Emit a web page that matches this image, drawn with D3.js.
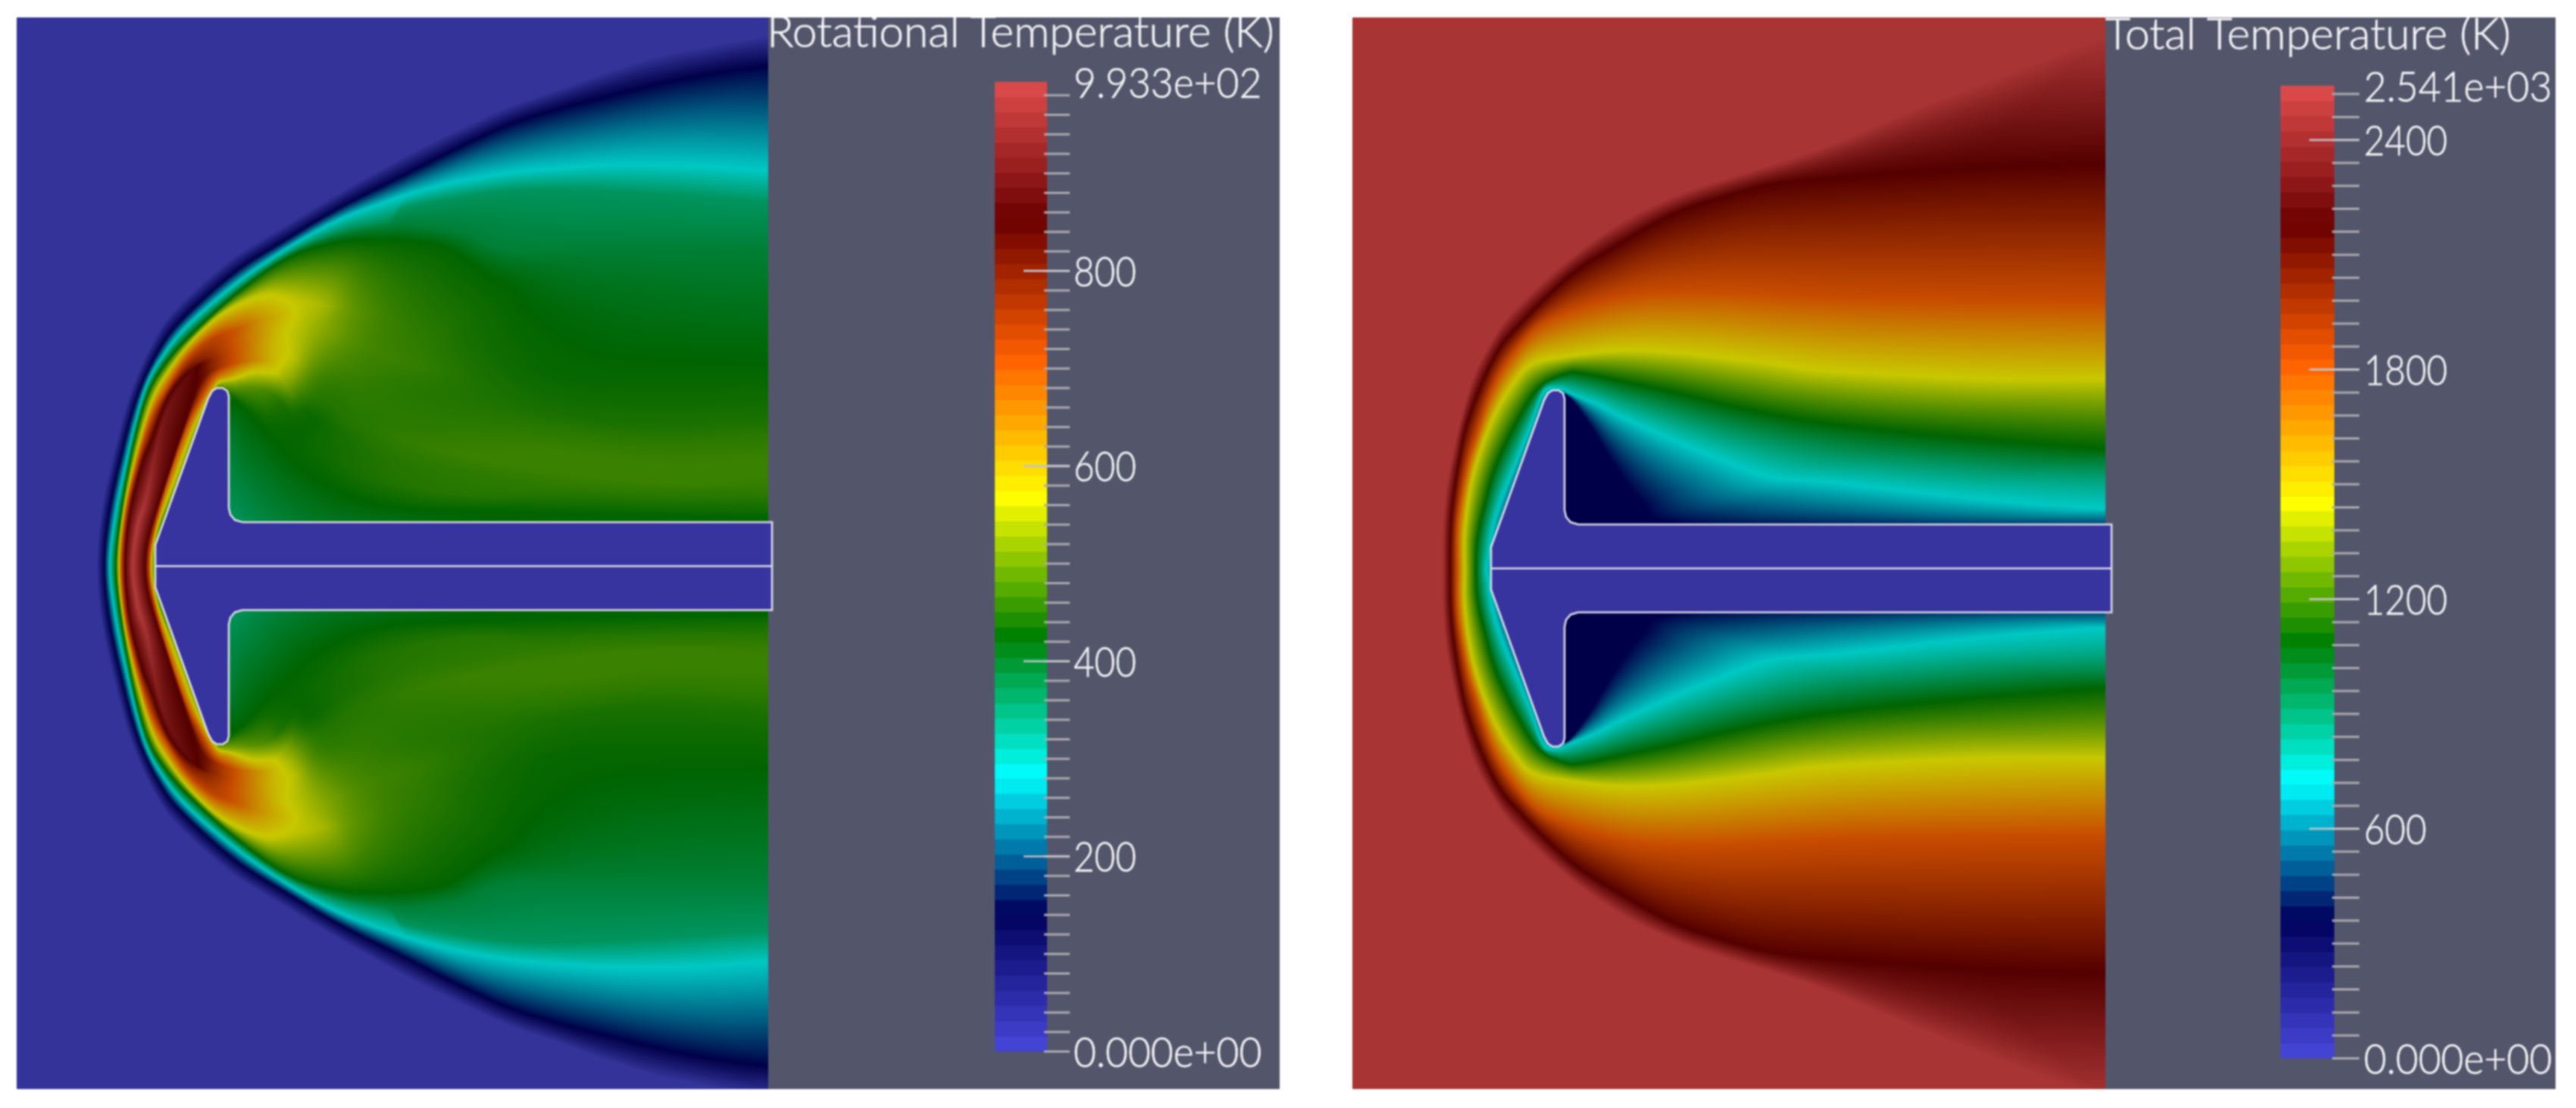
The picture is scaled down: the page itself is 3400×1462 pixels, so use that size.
<!DOCTYPE html>
<html><head><meta charset="utf-8">
<script src="https://cdn.jsdelivr.net/npm/d3@7/dist/d3.min.js"></script>
<style>
html,body{margin:0;padding:0;background:#fff;width:3400px;height:1462px;overflow:hidden}
#wrap{position:absolute;left:0;top:0;width:3400px;height:1462px;filter:blur(0.9px)}
canvas{position:absolute}
svg{position:absolute;left:0;top:0}
text{font-family:Lato,"Open Sans",sans-serif;font-weight:300;fill:#f4f4f6;stroke:#f4f4f6;stroke-width:.6px}
</style></head><body><div id="wrap"></div>
<script>
// ---------- colour map stops (normalised temperature) ----------
const mapStops   = [0, 0.143, 0.285, 0.429, 0.571, 0.714, 0.857, 1];
const barColors  = ["#4747db","#00005c","#00ffff","#008000","#ffff00","#ff6100","#6b0000","#e04d4d"];
const fieldColors= ["#333399","#000048","#00c8c3","#006400","#c8c800","#c84c00","#540000","#b23a3a"];

// ---------- rotational temperature: ridge lines [x, height above axis, normalised T], outermost first ----------
const rotBlue = [[106,0,0],[111,67,0],[126,140,0],[150,228,0],[182,300,0],[215,345,0],[283,405,0],[350,447,0],[430,495,0],[518,544,0],[585,577,0],[651,607,0],[718,630,0],[785,654,0],[851,674,0],[918,687,0],[991,700,0]];
const rotNavy = [[116,0,.143],[122,67,.143],[137,140,.143],[160,225,.143],[191,290,.143],[225,332,.143],[291,390,.143],[358,432,.143],[425,472,.143],[518,519,.143],[585,553,.143],[651,583,.143],[718,604,.143],[785,621,.143],[851,637,.143],[918,650,.143],[991,660,.143]];
const rotCyan = [[123,0,.285],[131,70,.285],[143,130,.285],[158,194,.285],[172,240,.285],[191,274,.285],[225,317,.285],[291,374,.285],[358,420,.285],[425,457,.285],[491,482,.285],[518,491,.285],[558,502,.285],[585,508,.285],[651,519,.285],[718,525,.285],[785,529,.285],[851,529,.285],[918,527,.285],[991,522,.285]];
const rotTeal = [[127,0,.36],[134.5,70,.36],[145.5,130,.36],[158,187,.36],[172,233,.36],[191,268,.36],[225,309,.36],[291,367,.36],[358,413,.36],[425,442,.36],[491,458,.36],[518,474,.36],[651,495,.36],[785,494,.36],[991,480,.36]];
const rotSea  = [[129,0,.395],[136,70,.395],[147,130,.395],[158,182,.395],[172,229,.395],[191,264,.395],[225,305,.395],[291,364,.395],[358,410,.395],[425,436,.395],[491,448,.39],[518,450,.39],[585,440,.39],[651,417,.39],[785,417,.39],[991,417,.39]];
const rotGreen= [[131,0,.43],[138,70,.43],[148,130,.43],[158,177,.43],[172,225,.43],[191,260,.43],[225,300,.43],[291,360,.43],[358,407,.43],[425,427,.43],[491,430,.43],[558,422,.43],[591,404,.43],[625,380,.43],[651,364,.43],[685,324,.43],[751,280,.43],[851,267,.43],[991,264,.43]];
const rotOuterYellow = [[135,0,.571],[141,70,.571],[158,150,.571],[178,217,.571],[198,254,.571],[231,297,.571],[275,337,.56],[325,360,.56],[355,356,.565],[400,345,.55],[441,340,.50],[491,325,.47],[558,305,.455],[600,295,.445],[700,250,.435],[850,215,.44],[991,200,.445]];
const rotOuterOrange = [[138,0,.714],[144,70,.714],[160,140,.714],[178,197,.714],[198,234,.714],[225,274,.72],[258,300,.73],[290,312,.70],[325,325,.63],[365,330,.575],[410,310,.52],[458,290,.48],[530,265,.465],[610,240,.45],[710,205,.445],[850,180,.45],[991,170,.46]];
const rotOuterDark = [[143,0,.857],[149,70,.857],[165,135,.857],[178,167,.857],[198,220,.86],[221,250,.86],[245,272,.80],[280,292,.72],[318,305,.64],[350,310,.58],[375,300,.55],[415,275,.49],[470,250,.465],[545,225,.455],[620,200,.455],[720,175,.46],[860,150,.465],[991,140,.47]];
const rotCore = [[153,0,1],[160,55,1],[171,90,.98],[191,184,.92],[215,234,.89],[238,264,.86],[262,272,.78],[300,285,.68],[335,290,.6],[365,275,.56],[400,245,.47],[460,215,.46],[540,190,.46],[620,170,.465],[720,150,.47],[860,130,.47],[991,125,.47]];
const rotInnerDark = [[170,0,.857],[176,45,.857],[200,120,.857],[215,167,.857],[235,224,.85],[248,250,.83],[268,262,.76],[300,270,.68],[335,270,.6],[358,258,.55],[390,225,.46],[445,190,.455],[520,165,.465],[600,145,.47],[710,125,.47],[860,110,.47],[991,105,.465]];
const rotInnerOrange = [[175,0,.714],[181,45,.714],[201,117,.714],[225,184,.714],[240,215,.72],[262,245,.66],[280,250,.62],[310,258,.585],[340,255,.57],[355,240,.52],[380,205,.44],[430,170,.445],[500,140,.455],[590,125,.46],[700,105,.46],[860,90,.455],[991,90,.455]];
const rotInnerYellow = [[178,0,.571],[184,45,.571],[205,110,.6],[229,175,.6],[244,208,.6],[258,232,.6],[270,242,.55],[300,238,.5],[330,232,.48],[350,215,.45],[370,185,.435],[410,150,.44],[480,115,.45],[590,95,.455],[700,85,.445],[860,75,.44],[991,72,.44]];
const rotValley = [[183,0,.46],[188,45,.46],[212,110,.5],[235,175,.5],[249,210,.5],[264,236,.5],[275,232,.46],[291,217,.43],[325,184,.43],[358,150,.43],[408,110,.43],[491,80,.43],[638,72,.43],[800,68,.43],[991,65,.43]];
const rotWall = [[195,0,.45],[200,45,.45],[225,110,.45],[245,175,.45],[255,210,.45],[270,225,.45],[281,205,.42],[281,150,.385],[281,90,.37],[290,62,.365],[325,58,.38],[391,58,.40],[491,58,.415],[638,58,.43],[991,58,.43]];

// ---------- total temperature: iso lines, outermost first ----------
const totOuter = [[119,0,.985],[120,61,.985],[128,129,.985],[155,240,.985],[188,307,.985],[222,350,.985],[288,410,.985],[355,457,.985],[422,490,.985],[488,513,.985],[581,541,.985],[646,565,.985],[776,619,.985],[994,701,.985]];
const totDark  = [[129,0,.857],[131,70,.857],[141,143,.857],[155,203,.857],[188,280,.857],[222,323,.857],[288,387,.857],[355,430,.857],[422,467,.857],[488,490,.857],[555,507,.857],[635,515,.857],[841,529,.857],[994,534,.857]];
const totOrange= [[138,0,.714],[139,61,.714],[151,133,.714],[162,170,.714],[182,230,.714],[205,273,.714],[238,313,.714],[272,333,.714],[322,350,.714],[388,363,.714],[488,365,.714],[635,357,.714],[776,354,.714],[994,352,.714]];
const totYellow= [[148,0,.571],[148,46,.571],[155,103,.571],[168,153,.571],[188,203,.571],[212,243,.571],[238,270,.571],[288,280,.571],[355,287,.571],[422,285,.571],[488,278,.571],[555,270,.571],[635,260,.571],[841,250,.571],[994,250,.571]];
const totGreen = [[163,0,.429],[165,40,.429],[175,85,.429],[190,137,.429],[222,203,.429],[248,240,.429],[282,257,.429],[305,257,.429],[355,247,.429],[422,233,.429],[488,217,.429],[555,203,.429],[635,190,.429],[808,172,.429],[994,158,.429]];
const totCyan  = [[177,0,.285],[180,20,.285],[185,53,.285],[195,87,.285],[215,137,.285],[235,187,.285],[252,233,.285],[272,237,.285],[288,230,.285],[322,217,.285],[355,200,.285],[422,170,.285],[488,143,.285],[555,120,.285],[635,113,.285],[841,90,.285],[994,78,.285]];
const totNavy  = [[200,0,.143],[215,90,.143],[250,180,.143],[270,220,.143],[285,227,.143],[315,187,.143],[345,137,.143],[382,87,.143],[422,60,.143],[635,60,.17],[994,60,.2]];

// ---------- body outline (upper half, mirrored for the lower half) ----------
const bodyUpper = [[183,0],[183,28],[253,222],[258,231],[264,235],[272,235],[278,231],[280,224],[280,77],[282,68],[288,61],[298,58]];

// ---------- colour bar ticks ----------
const rotMinorTicks = [0,20,40,60,80,100,120,140,160,180,200,220,240,260,280,300,320,340,360,380,400,420,440,460,480,500,520,540,560,580,600,620,640,660,680,700,720,740,760,780,800,820,840,860,880,900,920,940,960,980];
const rotMajorTicks = [200,400,600,800];
const rotLabelValues= [0,200,400,600,800,993.3];
const rotLabelTexts = ["0.000e+00","200","400","600","800","9.933e+02"];
const totMinorTicks = [0,60,120,180,240,300,360,420,480,540,600,660,720,780,840,900,960,1020,1080,1140,1200,1260,1320,1380,1440,1500,1560,1620,1680,1740,1800,1860,1920,1980,2040,2100,2160,2220,2280,2340,2400,2460,2520];
const totMajorTicks = [600,1200,1800,2400];
const totLabelValues= [0,600,1200,1800,2400,2541];
const totLabelTexts = ["0.000e+00","600","1200","1800","2400","2.541e+03"];

const bandCount = 64;

const barScale   = d3.scaleLinear().domain(mapStops).range(barColors).interpolate(d3.interpolateRgb).clamp(true);
const fieldScale = d3.scaleLinear().domain(mapStops).range(fieldColors).interpolate(d3.interpolateRgb).clamp(true);
const lut = d3.range(1025).map(i => { const c = d3.rgb(fieldScale(i/1024)); return [c.r,c.g,c.b]; });

const wrap = d3.select("#wrap");
const svg = wrap.append("svg").attr("width",3400).attr("height",1462);

const CX = 250, NA = 7200;
function catmull(a,b,c,d,t){
  return 0.5*((2*b)+(-a+c)*t+(2*a-5*b+4*c-d)*t*t+(-a+3*b-3*c+d)*t*t*t);
}
function polarTable(pts){
  const first=[pts[1][0],-pts[1][1],pts[1][2]];
  const n=pts.length, a=pts[n-1], b=pts[n-2];
  const ghost=[2*a[0]-b[0],2*a[1]-b[1],a[2]];
  const all=[first,...pts,ghost];
  const s=[];
  for(let i=1;i<all.length-2;i++)for(let j=0;j<12;j++){
    const t=j/12;
    s.push([0,1,2].map(c=>catmull(all[i-1][c],all[i][c],all[i+1][c],all[i+2][c],t)));
  }
  s.push(pts[n-1]);
  s.push([200000,pts[n-1][1],pts[n-1][2]]);
  const R=new Float32Array(NA+1).fill(1e7), V=new Float32Array(NA+1).fill(pts[n-1][2]);
  for(let i=0;i<s.length-1;i++){
    const p=s[i],q=s[i+1];
    const tp=Math.atan2(Math.max(p[1],0),p[0]-CX), tq=Math.atan2(Math.max(q[1],0),q[0]-CX);
    let i0=Math.ceil(Math.min(tp,tq)/Math.PI*NA), i1=Math.floor(Math.max(tp,tq)/Math.PI*NA);
    for(let k=i0;k<=i1;k++){
      const th=k/NA*Math.PI, cx=Math.cos(th), sy=Math.sin(th);
      const dx=q[0]-p[0],dy=q[1]-p[1];
      const den=cx*dy-sy*dx;
      const rel=[p[0]-CX,p[1]];
      let t=Math.abs(den)<1e-9?0:(sy*rel[0]-cx*rel[1])/den;
      t=Math.max(0,Math.min(1,t));
      const X=rel[0]+dx*t,Y=rel[1]+dy*t;
      R[k]=Math.hypot(X,Y);V[k]=p[2]+(q[2]-p[2])*t;
    }
  }
  return {R,V};
}

function drawPanel(cfg){
  const W = cfg.right-cfg.left, H = cfg.bottom-cfg.top;
  const cv = wrap.insert("canvas","svg").attr("width",W).attr("height",H)
     .style("left",cfg.left+"px").style("top",cfg.top+"px").node();
  const ctx = cv.getContext("2d");
  const x = d3.scaleLinear().domain([0,W]).range([cfg.left,cfg.right]);
  const y = d3.scaleLinear().domain([1,-1]).range([cfg.cy-1,cfg.cy+1]);
  const tabs = cfg.curves.map(polarTable);
  const K = tabs.length;
  for(let a=0;a<=NA;a++)for(let k=1;k<K;k++) if(tabs[k].R[a]>tabs[k-1].R[a]) tabs[k].R[a]=tabs[k-1].R[a];
  const img = ctx.createImageData(W,H);
  for(let py=0;py<H;py++)for(let px=0;px<W;px++){
    const X=x.invert(cfg.left+px+.5)-CX, Y=Math.abs(y.invert(cfg.top+py+.5));
    const r=Math.hypot(X,Y);
    const a=Math.round(Math.atan2(Y,X)/Math.PI*NA);
    let v;
    if(r>=tabs[0].R[a]) v=tabs[0].V[a];
    else if(r<=tabs[K-1].R[a]) v=tabs[K-1].V[a];
    else{
      let k=1; while(k<K-1&&r<tabs[k].R[a])k++;
      const r0=tabs[k-1].R[a],r1=tabs[k].R[a];
      const t=r0>r1?(r0-r)/(r0-r1):0;
      v=tabs[k-1].V[a]+(tabs[k].V[a]-tabs[k-1].V[a])*t;
    }
    const c=lut[Math.round(Math.max(0,Math.min(1,v))*1024)], i=(py*W+px)*4;
    img.data[i]=c[0];img.data[i+1]=c[1];img.data[i+2]=c[2];img.data[i+3]=255;
  }
  ctx.putImageData(img,0,0);

  const g = svg.append("g");
  g.append("rect").attr("x",cfg.right).attr("y",cfg.top).attr("width",cfg.greyEnd-cfg.right).attr("height",H).attr("fill","#53566b");

  const half = bodyUpper.concat([[cfg.stingEnd,bodyUpper[bodyUpper.length-1][1]]]);
  const outline = half.concat(half.slice().reverse().map(p=>[p[0],-p[1]]));
  const line = d3.line().x(p=>x(p[0])).y(p=>y(p[1]));
  g.append("path").attr("d",line(outline)+"Z").attr("fill","#38349f").attr("stroke","#dcdce6").attr("stroke-width",2.6);
  g.append("path").attr("d",line([[bodyUpper[0][0],0],[cfg.stingEnd,0]])).attr("stroke","#dcdce6").attr("stroke-width",2.6).attr("fill","none");

  const T = d3.scaleLinear().domain([0,cfg.max]).range([cfg.barBottom,cfg.barTop]);
  const bandEdges = d3.range(bandCount+1).map(i=>i/bandCount*cfg.max);
  g.append("g").selectAll("rect").data(d3.range(bandCount)).join("rect")
    .attr("x",cfg.barLeft).attr("width",cfg.barRight-cfg.barLeft)
    .attr("y",i=>T(bandEdges[i+1])).attr("height",i=>T(bandEdges[i])-T(bandEdges[i+1])+.5)
    .attr("fill",i=>barScale((i+.5)/bandCount));
  const minor = d3.axisRight(T).tickValues(cfg.minor).tickSize(cfg.tickEnd-cfg.minorStart).tickFormat("");
  const major = d3.axisRight(T).tickValues(cfg.major).tickSize(cfg.tickEnd-cfg.majorStart).tickFormat("");
  const gm = g.append("g").attr("transform",`translate(${cfg.minorStart},0)`).call(minor);
  gm.select(".domain").remove();
  gm.selectAll("line").attr("stroke","#a9a9ae").attr("stroke-width",3);
  const gM = g.append("g").attr("transform",`translate(${cfg.majorStart},0)`).call(major);
  gM.select(".domain").remove();
  gM.selectAll("line").attr("stroke","#c4c4ca").attr("stroke-width",2.6);
  const labels = d3.axisRight(T).tickValues(cfg.labelValues).tickSize(0).tickPadding(0)
     .tickFormat(d=>cfg.labelTexts[cfg.labelValues.indexOf(d)]);
  const gL = g.append("g").attr("transform",`translate(${cfg.labelX},0)`).call(labels);
  gL.select(".domain").remove();
  gL.attr("font-family",null).attr("font-size",null);
  gL.selectAll("text").attr("font-size",56).attr("x",0).attr("dy",".36em")
    .attr("textLength",function(){return cfg.charW*this.textContent.length;}).attr("lengthAdjust","spacingAndGlyphs");

  const clipId = "clip"+cfg.left;
  svg.append("clipPath").attr("id",clipId).append("rect").attr("x",cfg.right).attr("y",cfg.top).attr("width",cfg.greyEnd-cfg.right).attr("height",H);
  g.append("text").attr("clip-path",`url(#${clipId})`).attr("x",cfg.titleX).attr("y",cfg.titleY).attr("font-size",58)
    .attr("textLength",cfg.titleW).attr("lengthAdjust","spacingAndGlyphs").text(cfg.title);
}

drawPanel({left:22,right:1014,top:23,bottom:1437,cy:747,greyEnd:1689,stingEnd:997,
  curves:[rotBlue,rotNavy,rotCyan,rotTeal,rotSea,rotGreen,rotOuterYellow,rotOuterOrange,rotOuterDark,rotCore,rotInnerDark,rotInnerOrange,rotInnerYellow,rotValley,rotWall],
  max:993.3,barLeft:1313,barRight:1382,barTop:108,barBottom:1387,minorStart:1378,majorStart:1351,tickEnd:1412,labelX:1417,charW:27.6,
  minor:rotMinorTicks,major:rotMajorTicks,labelValues:rotLabelValues,labelTexts:rotLabelTexts,
  title:"Rotational Temperature (K)",titleX:1012,titleY:62,titleW:670});
drawPanel({left:1785,right:2779,top:23,bottom:1437,cy:750,greyEnd:3373,stingEnd:1002,
  curves:[totOuter,totDark,totOrange,totYellow,totGreen,totCyan,totNavy],
  max:2541,barLeft:3010,barRight:3081,barTop:113,barBottom:1396,minorStart:3078,majorStart:3048,tickEnd:3114,labelX:3120,charW:27.6,
  minor:totMinorTicks,major:totMajorTicks,labelValues:totLabelValues,labelTexts:totLabelTexts,
  title:"Total Temperature (K)",titleX:2778,titleY:65,titleW:536});
</script></body></html>
